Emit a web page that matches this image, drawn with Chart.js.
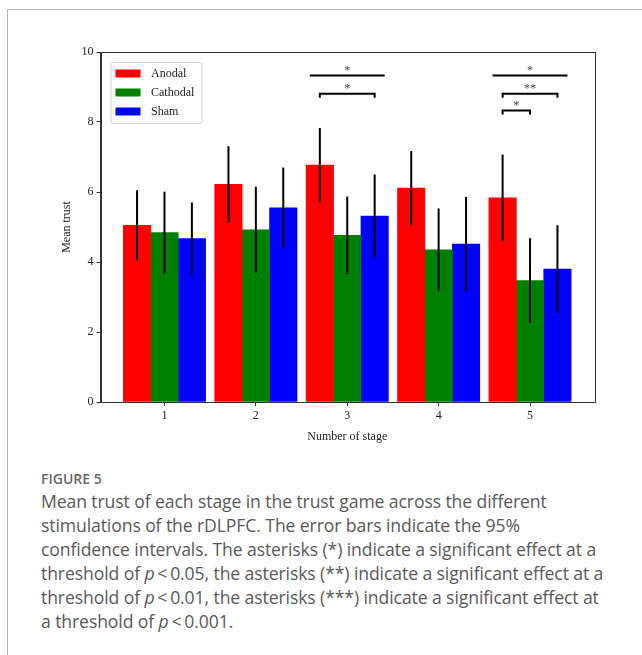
<!DOCTYPE html>
<html>
<head>
<meta charset="utf-8">
<script src="https://cdn.jsdelivr.net/npm/chart.js@4.4.0/dist/chart.umd.min.js"></script>
<style>
  html, body { margin: 0; padding: 0; background: #fff; }
  body { width: 642px; height: 655px; position: relative; overflow: hidden; }
  .card { position: absolute; left: 7px; top: 9px; width: 700px; height: 700px;
          border-left: 1px solid #b4b4b4; border-top: 1px solid #b4b4b4; }
  #wrap { position: absolute; left: 0; top: 0; width: 642px; height: 448px; }
  .caption { position: absolute; left: 41px; top: 469px; width: 600px;
             font-family: "Open Sans", sans-serif; white-space: nowrap; }
  .caption .fig { font-size: 14px; font-weight: 600; line-height: 20px; color: #666; }
  .caption .txt { font-size: 17.6px; line-height: 24px; color: #585858; letter-spacing: -0.1px; }
</style>
</head>
<body>
<div class="card"></div>
<div id="wrap"><canvas id="trustChart" width="642" height="448"></canvas></div>
<div class="caption">
  <div class="fig">FIGURE 5</div>
  <div class="txt">
    Mean trust of each stage in the trust game across the different<br>
    stimulations of the rDLPFC. The error bars indicate the 95%<br>
    confidence intervals. The asterisks (*) indicate a significant effect at a<br>
    threshold of <i>p</i>&thinsp;&lt;&thinsp;0.05, the asterisks (**) indicate a significant effect at a<br>
    threshold of <i>p</i>&thinsp;&lt;&thinsp;0.01, the asterisks (***) indicate a significant effect at<br>
    a threshold of <i>p</i>&thinsp;&lt;&thinsp;0.001.
  </div>
</div>
<script>
const stages = [1, 2, 3, 4, 5];
const stageLabels = ['1', '2', '3', '4', '5'];
const groupNames = ['Anodal', 'Cathodal', 'Sham'];

// mean trust per stage
const anodal   = [5.05, 6.22, 6.77, 6.11, 5.83];
const cathodal = [4.84, 4.92, 4.76, 4.35, 3.47];
const sham     = [4.67, 5.55, 5.31, 4.51, 3.80];

// 95% CI half widths
const ciAnodal   = [1.00, 1.09, 1.06, 1.06, 1.24];
const ciCathodal = [1.17, 1.23, 1.11, 1.18, 1.21];
const ciSham     = [1.03, 1.15, 1.19, 1.35, 1.25];

const yTicks = [0, 2, 4, 6, 8, 10];

// significance marks: x range (stage units), height, text
const sigFrom  = [2.59, 2.7, 4.59, 4.7, 4.7];
const sigTo    = [3.41, 3.3, 5.41, 5.3, 5.0];
const sigLevel = [9.33, 8.81, 9.33, 8.81, 8.33];
const sigText  = ['*', '*', '*', '**', '*'];
const sigBracket = [false, true, false, true, true];

const colors = ['#ff0000', '#008000', '#0000ff'];
const offsets = [-0.3, 0, 0.3];
const means = [anodal, cathodal, sham];
const cis = [ciAnodal, ciCathodal, ciSham];
const serif = '"Liberation Serif", "Times New Roman", serif';

const extras = {
    id: 'extras',
    afterDatasetsDraw(chart) {
        const ctx = chart.ctx;
        const xs = chart.scales.x, ys = chart.scales.y;
        const ca = chart.chartArea;
        ctx.save();

        // error bars
        ctx.strokeStyle = '#000';
        ctx.lineWidth = 2;
        chart.data.datasets.forEach((ds, k) => {
            chart.getDatasetMeta(k).data.forEach((bar, i) => {
                const m = ds.data[i].y, c = ds.ci[i];
                ctx.beginPath();
                ctx.moveTo(bar.x, ys.getPixelForValue(m + c));
                ctx.lineTo(bar.x, ys.getPixelForValue(m - c));
                ctx.stroke();
            });
        });

        // frame (matplotlib style box)
        ctx.lineWidth = 1;
        ctx.strokeStyle = '#333';
        ctx.strokeRect(Math.round(ca.left) + 0.5, Math.round(ca.top) + 0.5,
            Math.round(ca.right - ca.left), Math.round(ca.bottom - ca.top));

        // significance lines
        sigText.forEach((t, j) => {
            const x0 = xs.getPixelForValue(sigFrom[j]);
            const x1 = xs.getPixelForValue(sigTo[j]);
            const yy = ys.getPixelForValue(sigLevel[j]);
            ctx.strokeStyle = '#000';
            ctx.lineWidth = 2;
            ctx.beginPath();
            if (sigBracket[j]) {
                ctx.moveTo(x0, yy + 4);
                ctx.lineTo(x0, yy);
                ctx.lineTo(x1, yy);
                ctx.lineTo(x1, yy + 4);
            } else {
                ctx.moveTo(x0, yy);
                ctx.lineTo(x1, yy);
            }
            ctx.stroke();
            ctx.fillStyle = '#444';
            ctx.font = '12px ' + serif;
            ctx.textAlign = 'center';
            ctx.textBaseline = 'middle';
            ctx.fillText(t, (x0 + x1) / 2, yy - 5);
        });

        // legend
        const bx = ca.left + 10.5, by = ca.top + 10.5, bw = 91, bh = 61;
        ctx.fillStyle = 'rgba(255,255,255,0.85)';
        ctx.strokeStyle = '#d0d0d0';
        ctx.lineWidth = 1;
        ctx.beginPath();
        ctx.roundRect(bx, by, bw, bh, 2);
        ctx.fill();
        ctx.stroke();
        chart.data.datasets.forEach((ds, k) => {
            const cy = by + 11 + k * 19;
            ctx.fillStyle = ds.backgroundColor;
            ctx.fillRect(bx + 4.5, cy - 4, 25, 8);
            ctx.fillStyle = '#222';
            ctx.font = '12px ' + serif;
            ctx.textAlign = 'left';
            ctx.textBaseline = 'middle';
            ctx.fillText(ds.label, bx + 40, cy);
        });
        ctx.restore();
    }
};

const ctx = document.getElementById('trustChart').getContext('2d');
new Chart(ctx, {
    type: 'bar',
    data: {
        datasets: groupNames.map((name, k) => ({
            label: name,
            data: stages.map((s, i) => ({x: s + offsets[k], y: means[k][i]})),
            ci: cis[k],
            backgroundColor: colors[k],
            borderWidth: 0,
            grouped: false,
            barPercentage: 1,
            categoryPercentage: 1
        }))
    },
    options: {
        responsive: false,
        animation: false,
        events: [],
        layout: {padding: {left: 56, top: 52, right: 48, bottom: 0}},
        plugins: {legend: {display: false}, tooltip: {enabled: false}},
        scales: {
            x: {
                type: 'linear',
                min: 0.3,
                max: 5.7,
                offset: false,
                afterBuildTicks: scale => { scale.ticks = stages.map(s => ({value: s})); },
                afterFit: scale => { scale.height = 46; },
                grid: {display: true, offset: false, drawOnChartArea: false, tickLength: 4, color: '#333'},
                border: {display: true, color: '#333'},
                ticks: {
                    padding: 3,
                    color: '#222',
                    font: {family: serif, size: 12},
                    callback: v => stageLabels[stages.indexOf(v)]
                },
                title: {display: true, text: 'Number of stage', color: '#222', font: {family: serif, size: 12}}
            },
            y: {
                min: 0,
                max: 10,
                afterBuildTicks: scale => { scale.ticks = yTicks.map(v => ({value: v})); },
                afterFit: scale => { scale.width = 44.5; },
                grid: {display: true, drawOnChartArea: false, tickLength: 4, color: '#333'},
                border: {display: true, color: '#333'},
                ticks: {padding: 3, color: '#222', font: {family: serif, size: 12}},
                title: {display: true, text: 'Mean trust', color: '#222', font: {family: serif, size: 12}}
            }
        }
    },
    plugins: [extras]
});
</script>
</body>
</html>
